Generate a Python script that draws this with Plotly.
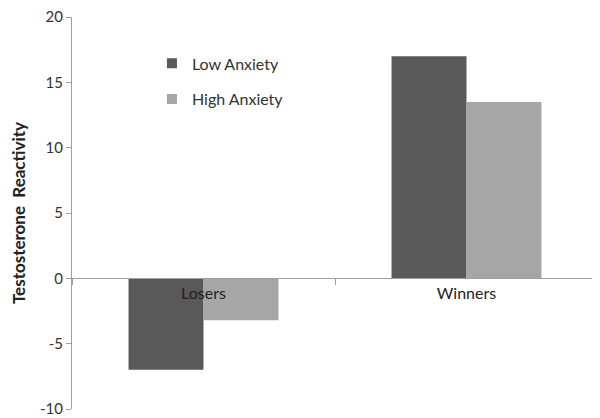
import plotly.graph_objects as go

categories = ["Losers", "Winners"]
low_anxiety = [-7.0, 17.0]
high_anxiety = [-3.2, 13.5]
series_names = ["Low Anxiety", "High Anxiety"]
series_colors = ["#595959", "#A6A6A6"]
y_ticks = [-10, -5, 0, 5, 10, 15, 20]
y_tick_text = ["-10", "-5", "0", "5", "10", "15", "20"]

FONT = "Lato, Open Sans, sans-serif"

fig = go.Figure()
for vals, name, col, grp in zip([low_anxiety, high_anxiety], series_names,
                                series_colors, ["a", "b"]):
    fig.add_trace(go.Bar(x=categories, y=vals, name=name,
                         marker=dict(color=col, line=dict(width=0)),
                         showlegend=False))
    fig.add_trace(go.Scatter(x=[None], y=[None], mode="markers", name=name,
                             marker=dict(symbol="square", size=10, color=col),
                             legendgroup=grp))

ymin, ymax = -10, 20
fig.update_layout(
    width=592, height=411,
    margin=dict(l=64, r=2, t=9, b=10),
    paper_bgcolor="white", plot_bgcolor="white",
    barmode="group", bargap=0.43, bargroupgap=0,
    font=dict(family=FONT, size=16, color="#333333"),
    legend=dict(x=0.152, y=0.925, xanchor="left", yanchor="top",
                bgcolor="rgba(0,0,0,0)", font=dict(size=16, color="#333333"),
                tracegroupgap=12, traceorder="grouped", itemwidth=30),
    xaxis=dict(anchor="free", position=(0 - ymin) / (ymax - ymin),
               automargin=False,
               showline=True, linecolor="#A0A0A0", linewidth=1,
               ticks="outside", tickson="boundaries", ticklen=6,
               tickcolor="#A0A0A0", showgrid=False, zeroline=False,
               tickfont=dict(size=16, color="#222222")),
    yaxis=dict(range=[ymin, ymax], tickvals=y_ticks, ticktext=y_tick_text,
               automargin=False, showgrid=False, ticklabeloverflow="allow",
               zeroline=False, showline=True, linecolor="#A0A0A0", linewidth=1,
               ticks="outside", ticklen=5, tickcolor="#A0A0A0",
               tickfont=dict(size=15, color="#333333"),
               title=dict(text="<b>Testosterone  Reactivity</b>",
                          font=dict(size=17, color="#222222"), standoff=13)),
)

fig.write_html("out.html")
